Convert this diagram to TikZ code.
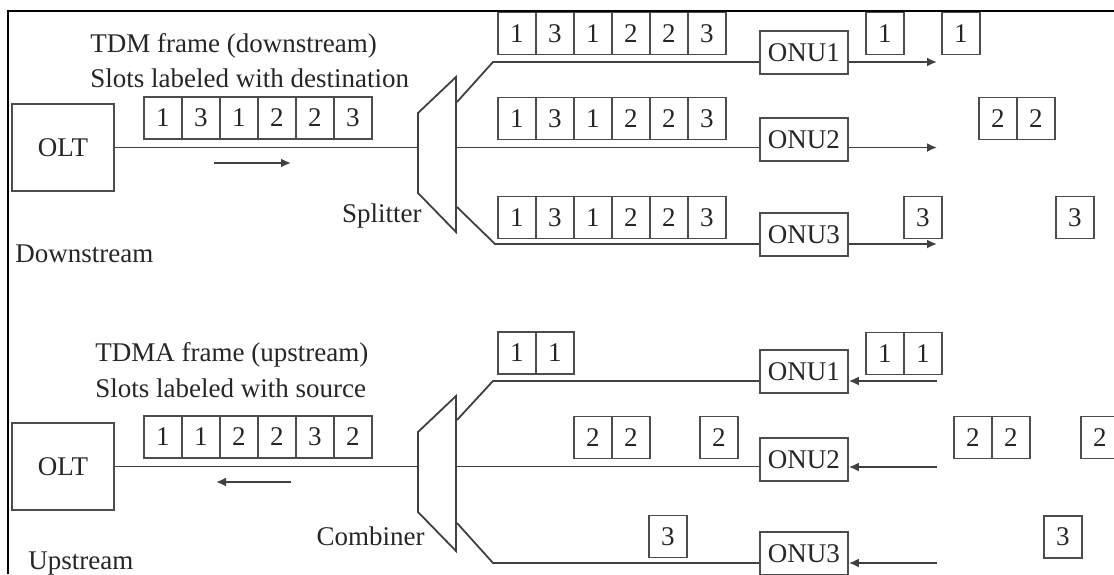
\documentclass[tikz,border=0pt]{standalone}
\usepackage{fontspec}
\setmainfont{Liberation Serif}
\usetikzlibrary{arrows.meta,positioning}

\tikzset{
  slot/.style={draw=black!70, line width=0.9pt, minimum width=19pt, minimum height=21pt, inner sep=0pt},
  unit/.style={draw=black!70, line width=0.9pt, minimum width=44pt, minimum height=21.5pt, inner sep=0pt},
  olt/.style={draw=black!70, line width=0.9pt, minimum width=51pt, minimum height=43.5pt, inner sep=0pt},
  fibre/.style={draw=black!75, line width=0.9pt},
  tag/.style={inner sep=0pt, anchor=base west},
}

% a row of time slots: name, west point, labels
\newcommand{\slotrow}[3]{%
  \foreach \lab [count=\i from 0] in {#3}
    \node[slot, anchor=west, xshift={\i*19pt}] (#1-\i) at (#2) {\lab};
}

\begin{document}
\begin{tikzpicture}[x=0.5pt, y=-0.5pt, >={Latex[length=5pt,width=4.5pt]},
                    every node/.style={font=\fontsize{13.5}{16}\selectfont, text=black!85}]
    \useasboundingbox (0,0) rectangle (1114,574);
    \draw[line width=1.1pt] (8,574) -- (8,11) -- (1114,11);

    %% downstream: OLT -> splitter -> ONUs
    \node [olt] (olt1) at (63,147.5) {OLT};
    \coordinate (sp-a) at (418,113);
    \coordinate (sp-b) at (456,77);
    \coordinate (sp-c) at (456,232);
    \coordinate (sp-d) at (418,193);
    \draw[fibre] (sp-a) -- (sp-b) -- (sp-c) -- (sp-d) -- cycle;
    \node [tag, anchor=base east] (split) at (422,222) {Splitter};

    \node [unit, anchor=north west] (onu1) at (759,30) {ONU1};
    \node [unit, anchor=north west] (onu2) at (759,117) {ONU2};
    \node [unit, anchor=north west] (onu3) at (759,212) {ONU3};

    \coordinate (b1) at (457,102);
    \coordinate (b1k) at (493,62);
    \coordinate (b2) at (456,147.5);
    \coordinate (b3) at (457,207);
    \coordinate (b3k) at (495,244);
    \draw[fibre] (olt1.east) -- (olt1.east -| sp-a);
    \draw[fibre] (b1) -- (b1k) -- (onu1.west |- b1k);
    \draw[fibre] (b2) -- (onu2.west |- b2);
    \draw[fibre] (b3) -- (b3k) -- (onu3.west |- b3k);

    \coordinate (out1) at (937,62);
    \coordinate (out2) at (937,147.5);
    \coordinate (out3) at (937,244);
    \draw[fibre,->] (onu1.east |- out1) -- (out1);
    \draw[fibre,->] (onu2.east |- out2) -- (out2);
    \draw[fibre,->] (onu3.east |- out3) -- (out3);

    \slotrow{tdm}{143,118}{1,3,1,2,2,3}
    \slotrow{r1}{497,33.5}{1,3,1,2,2,3}
    \slotrow{r2}{497,118.5}{1,3,1,2,2,3}
    \slotrow{r3}{497,217.5}{1,3,1,2,2,3}
    \slotrow{g1a}{865,33.5}{1}
    \slotrow{g1b}{941,33.5}{1}
    \slotrow{g2}{978,118.5}{2,2}
    \slotrow{g3a}{903,217.5}{3}
    \slotrow{g3b}{1055,217.5}{3}

    \node [tag] (tdm-title) at (90,52) {TDM frame (downstream)};
    \node [tag] (tdm-note) at (90,87) {Slots labeled with destination};
    \node [tag] (down) at (15,262) {Downstream};
    \coordinate (dir1a) at (214,163);
    \coordinate (dir1b) at (291,163);
    \draw[fibre,->] (dir1a) -- (dir1b);

    %% upstream: ONUs -> combiner -> OLT
    \node [olt] (olt2) at (63,466.5) {OLT};
    \coordinate (cb-a) at (418,432);
    \coordinate (cb-b) at (456,396);
    \coordinate (cb-c) at (456,551);
    \coordinate (cb-d) at (418,512);
    \draw[fibre] (cb-a) -- (cb-b) -- (cb-c) -- (cb-d) -- cycle;
    \node [tag, anchor=base east] (comb) at (425,545) {Combiner};

    \node [unit, anchor=north west] (onu4) at (759,349) {ONU1};
    \node [unit, anchor=north west] (onu5) at (759,437) {ONU2};
    \node [unit, anchor=north west] (onu6) at (759,531) {ONU3};

    \coordinate (c1) at (457,420);
    \coordinate (c1k) at (493,381);
    \coordinate (c2) at (456,466.5);
    \coordinate (c3) at (457,523);
    \coordinate (c3k) at (493,563);
    \draw[fibre] (olt2.east) -- (olt2.east -| cb-a);
    \draw[fibre] (c1) -- (c1k) -- (onu4.west |- c1k);
    \draw[fibre] (c2) -- (onu5.west |- c2);
    \draw[fibre] (c3) -- (c3k) -- (onu6.west |- c3k);

    \coordinate (in1) at (937,381);
    \coordinate (in2) at (937,467);
    \coordinate (in3) at (937,563);
    \draw[fibre,->] (in1) -- (onu4.east |- in1);
    \draw[fibre,->] (in2) -- (onu5.east |- in2);
    \draw[fibre,->] (in3) -- (onu6.east |- in3);

    \slotrow{tdma}{143,437}{1,1,2,2,3,2}
    \slotrow{u1a}{497,353}{1,1}
    \slotrow{u1b}{865,353.5}{1,1}
    \slotrow{u2a}{573,437.5}{2,2}
    \slotrow{u2b}{699,437.5}{2}
    \slotrow{u2c}{953,437.5}{2,2}
    \slotrow{u2d}{1080,437.5}{2}
    \slotrow{u3a}{648,536.5}{3}
    \slotrow{u3b}{1043,537}{3}

    \node [tag] (tdma-title) at (95,361) {TDMA frame (upstream)};
    \node [tag] (tdma-note) at (95,397) {Slots labeled with source};
    \node [tag] (up) at (28,569) {Upstream};
    \coordinate (dir2a) at (291,482);
    \coordinate (dir2b) at (216,482);
    \draw[fibre,->] (dir2a) -- (dir2b);
\end{tikzpicture}
\end{document}
